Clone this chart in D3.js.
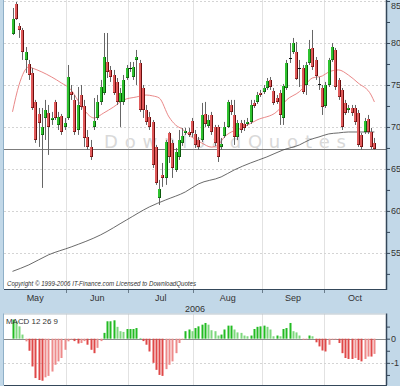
<!DOCTYPE html>
<html><head><meta charset="utf-8">
<script src="https://cdn.jsdelivr.net/npm/d3@7"></script>
<style>body{margin:0;background:#c2d8e8}svg{display:block}</style>
</head><body><svg id="c" width="400" height="386"></svg>
<script>
const open=[81.07,84.64,82.02,81.55,77.98,77.50,76.43,72.98,71.55,69.05,71.07,71.67,70.83,72.98,70.24,71.31,70.00,71.07,74.17,73.22,69.64,73.81,72.50,68.81,67.62,70.00,71.07,72.98,74.05,77.74,76.79,76.19,75.36,72.98,72.98,75.83,76.97,75.95,77.98,77.62,74.64,72.02,71.19,70.60,67.62,61.55,64.29,63.93,69.29,68.10,64.88,66.43,68.10,69.29,69.41,70.71,69.17,68.45,68.45,71.55,70.12,71.43,70.00,70.00,67.62,68.93,70.00,72.62,71.43,68.81,70.48,70.36,70.36,70.60,72.86,72.98,74.05,74.17,74.64,75.60,74.29,73.45,74.05,71.07,74.64,78.16,78.93,78.93,77.00,77.03,75.00,77.62,79.41,77.98,75.10,74.64,72.50,75.00,77.98,79.17,75.60,74.41,72.86,72.02,72.26,72.26,71.67,69.05,69.41,70.95,69.41,68.10];
const high=[84.17,84.88,82.38,81.79,79.52,77.98,77.03,73.22,72.26,72.26,73.22,72.62,71.79,73.22,71.79,71.55,71.07,77.38,75.00,73.81,74.76,75.00,73.22,69.64,68.45,73.45,73.81,75.60,81.19,81.19,77.26,76.79,75.83,74.64,76.19,77.38,77.74,77.74,79.17,77.98,75.00,72.62,71.79,70.83,67.86,63.69,65.71,68.45,69.41,68.45,67.50,69.64,69.88,69.88,69.88,71.07,69.64,68.81,72.86,72.98,71.43,71.79,70.24,70.24,68.69,70.60,73.22,73.22,73.22,70.83,70.83,70.83,71.07,73.22,73.22,74.17,74.41,75.00,75.83,75.95,74.64,73.81,74.41,75.12,77.98,80.00,80.60,80.12,77.98,77.38,77.74,80.36,81.55,78.33,75.95,75.00,75.36,78.22,80.00,79.41,75.83,74.64,73.22,72.62,72.62,72.62,72.02,69.29,71.07,71.43,69.88,68.69];
const low=[80.95,82.74,80.60,77.98,76.43,75.60,72.02,68.10,67.62,62.74,68.45,66.67,70.24,70.83,69.64,69.05,69.64,70.83,73.22,69.05,69.05,72.02,67.62,67.26,66.07,69.64,70.83,72.62,73.81,75.83,75.36,73.81,72.62,70.00,72.62,75.60,76.55,75.60,75.00,71.79,71.07,70.24,69.64,65.12,63.10,60.71,62.86,63.10,65.71,63.93,64.64,66.07,67.74,69.05,68.81,68.81,67.50,67.26,68.21,70.00,69.88,69.05,67.74,65.83,67.26,68.69,69.88,71.43,67.86,68.45,69.29,69.52,70.12,70.36,72.26,72.74,73.57,73.93,74.41,74.41,72.62,72.74,70.24,70.24,74.41,77.62,78.69,75.60,74.76,73.93,73.81,77.38,76.79,75.60,74.41,71.43,72.26,74.76,77.74,74.41,73.22,69.64,71.43,71.67,71.31,70.24,67.62,67.26,69.17,69.17,67.38,67.26];
const close=[82.86,82.86,81.55,78.93,78.93,76.19,72.26,68.45,70.48,70.00,72.02,70.00,71.07,71.07,71.19,69.41,70.48,75.95,73.81,69.41,72.62,72.38,68.69,67.62,66.43,70.71,72.98,74.76,78.33,76.55,75.95,74.05,72.98,74.05,75.60,77.03,76.91,77.14,78.33,72.02,72.02,70.60,70.00,65.48,63.33,62.62,63.93,68.21,66.43,65.12,67.02,68.45,68.93,69.52,69.05,69.29,67.86,67.62,71.43,70.36,70.83,69.41,68.10,66.43,67.98,70.00,72.98,71.79,68.81,70.48,69.64,69.88,70.60,72.62,72.50,73.81,73.81,74.64,75.48,74.76,72.86,72.98,71.43,74.88,77.62,78.10,80.00,75.72,76.95,74.17,77.38,79.29,77.14,76.07,75.05,72.38,75.00,77.98,79.52,74.76,73.57,70.00,71.67,72.26,71.67,70.60,67.86,67.62,70.71,69.41,67.62,67.38];
const macd=[0.79,0.72,0.51,0.17,-0.11,-0.5,-1.15,-1.63,-1.71,-1.74,-1.6,-1.54,-1.36,-1.08,-0.94,-0.8,-0.46,-0.11,-0.04,-0.1,-0.2,-0.18,-0.1,-0.25,-0.46,-0.6,-0.38,-0.1,0.24,0.72,0.72,0.76,0.49,0.31,0.28,0.4,0.4,0.4,0.44,0.03,-0.1,-0.25,-0.53,-1.0,-1.29,-1.5,-1.54,-1.26,-1.08,-0.94,-0.6,-0.18,-0.04,0.31,0.38,0.31,0.44,0.51,0.58,0.65,0.58,0.35,0.31,0.13,0.17,0.38,0.54,0.54,0.38,0.26,0.24,0.13,0.1,0.13,0.4,0.49,0.51,0.54,0.49,0.38,0.1,0.13,0.1,0.4,0.44,0.65,0.31,0.26,0.13,-0.04,-0.02,0.13,0.1,-0.15,-0.32,-0.49,-0.53,-0.25,-0.04,-0.02,-0.18,-0.6,-0.8,-0.84,-0.84,-0.8,-0.88,-0.94,-0.84,-0.74,-0.74,-0.63];
// sparse moving averages: [candle index, value]
const maShort=[[0,71.8],[2,75.0],[5,77.14],[6,77.02],[9,76.55],[12,75.95],[15,75.24],[18,74.4],[20,73.2],[22,72.02],[25,71.07],[28,71.67],[31,72.38],[34,73.2],[38,73.57],[41,73.8],[43,73.7],[45,73.45],[48,71.19],[50,70.24],[52,69.76],[55,68.8],[58,68.1],[61,67.6],[63,67.86],[65,68.8],[71,70.0],[75,70.83],[81,71.79],[84,73.2],[88,74.2],[92,75.83],[95,76.07],[97,76.55],[100,76.79],[103,76.19],[106,75.24],[110,73.8],[111,72.98]];
const maLong=[[0,52.8],[5,53.57],[11,54.76],[18,55.71],[27,57.14],[35,58.93],[42,60.48],[47,61.31],[53,62.26],[57,63.21],[64,64.05],[68,64.88],[73,65.71],[78,66.43],[83,67.26],[88,67.86],[91,68.45],[94,68.81],[97,69.17],[100,69.29],[103,69.4],[106,69.4],[111,69.4]];
const monthLabels=["May","Jun","Jul","Aug","Sep","Oct"];
const monthStarts=[17,36,56,77,96];
const yearLabel="2006";
const priceTicks=[55,60,65,70,75,80,85];
const priceMinor=[52.5,57.5,62.5,67.5,72.5,77.5,82.5];
const macdTicks=[0,-1];
const macdMinor=[0.5,-0.5,-1.5];

const N=close.length;
const svg=d3.select("#c");
const P={l:4,r:386,t:0,b:289};
const M={t:313.5,b:385};
const x=d3.scaleLinear().domain([0,N-1]).range([12.5,374.4]);
const y=d3.scaleLinear().domain([50.7,85.12]).range([P.b,P.t]);
const ym=d3.scaleLinear().domain([-1.917,1.042]).range([M.b,M.t]);
const font="'Liberation Sans', Arial, sans-serif";

svg.append("rect").attr("width",400).attr("height",386).attr("fill","#c2d8e8");
svg.append("rect").attr("x",P.l).attr("y",P.t).attr("width",P.r-P.l).attr("height",P.b-P.t).attr("fill","#fff");
svg.append("rect").attr("x",P.l).attr("y",M.t).attr("width",P.r-P.l).attr("height",M.b-M.t).attr("fill","#fff");

// watermark
svg.append("text").attr("x",104).attr("y",148).attr("font-family","'DejaVu Sans',sans-serif").attr("font-size",18)
  .attr("fill","#d9d9d9").attr("textLength",242).attr("lengthAdjust","spacing").text("DownloadQuotes");

// grid
const bounds=[P.l,...monthStarts.map(i=>x(i-0.5)),P.r];
const g=svg.append("g");
monthStarts.forEach(i=>{
  const bx=Math.round(x(i-0.5))+0.5;
  g.append("line").attr("x1",bx).attr("x2",bx).attr("y1",P.t).attr("y2",P.b).attr("stroke","#e2e2e2");
  g.append("line").attr("x1",bx).attr("x2",bx).attr("y1",M.t).attr("y2",M.b).attr("stroke","#e2e2e2");
  g.append("line").attr("x1",bx).attr("x2",bx).attr("y1",P.b).attr("y2",P.b+4).attr("stroke","#6a7d8c");
});
priceTicks.forEach(v=>{
  const yy=Math.round(y(v))+0.5;
  g.append("line").attr("x1",P.l).attr("x2",P.r).attr("y1",yy).attr("y2",yy).attr("stroke","#d4d4d4").attr("stroke-dasharray","2,2");
});
g.append("line").attr("x1",P.l).attr("x2",P.r).attr("y1",Math.round(ym(-1))+0.5).attr("y2",Math.round(ym(-1))+0.5).attr("stroke","#d4d4d4").attr("stroke-dasharray","2,2");
g.append("line").attr("x1",P.l).attr("x2",P.r).attr("y1",Math.round(ym(0))+0.5).attr("y2",Math.round(ym(0))+0.5).attr("stroke","#8a8a8a");

// last price line
const ly=Math.round(y(close[N-1]))+0.5;
svg.append("line").attr("x1",P.l).attr("x2",P.r).attr("y1",ly).attr("y2",ly).attr("stroke","#7c7c7c");

// moving averages
const line=d3.line().x(d=>x(d[0])).y(d=>y(d[1])).curve(d3.curveMonotoneX);
svg.append("path").attr("d",line(maLong)).attr("fill","none").attr("stroke","#444").attr("stroke-width",0.8);
svg.append("path").attr("d",line(maShort)).attr("fill","none").attr("stroke","#e77a7a").attr("stroke-width",0.9);

// candles
const cg=svg.append("g");
for(let i=0;i<N;i++){
  const cx=Math.round(x(i));
  const o=open[i],c=close[i];
  const doji=Math.abs(o-c)<0.1;
  const up=c>o;
  cg.append("line").attr("x1",cx+0.5).attr("x2",cx+0.5).attr("y1",y(high[i])).attr("y2",y(low[i])).attr("stroke","#666").attr("stroke-width",1);
  const top=Math.round(y(Math.max(o,c))), bot=Math.max(top+1,Math.round(y(Math.min(o,c))));
  if(doji){
    cg.append("rect").attr("x",cx-1).attr("y",top).attr("width",3).attr("height",1).attr("fill","#111");
  } else {
    cg.append("rect").attr("x",cx-1).attr("y",top).attr("width",3).attr("height",bot-top).attr("fill",up?"#2fc22f":"#e05a5a");
    cg.append("rect").attr("x",cx+1).attr("y",top).attr("width",1).attr("height",bot-top).attr("fill",up?"#0b5a0b":"#6a0d0d");
    cg.append("rect").attr("x",cx-1).attr("y",bot-1).attr("width",3).attr("height",1).attr("fill",up?"#0b5a0b":"#6a0d0d").attr("opacity",0.7);
  }
}

// MACD histogram
const mg=svg.append("g");
const z=ym(0);
macd.forEach((v,i)=>{
  const prev=i>0?macd[i-1]:v;
  const grow=Math.abs(v)>=Math.abs(prev);
  let col;
  if(v>=0) col=grow?"#22bb22":"#7cd87c"; else col=grow?"#e04848":"#ee8a8a";
  const cx=Math.round(x(i));
  const yv=ym(v);
  mg.append("rect").attr("x",cx-0.5).attr("y",Math.min(yv,z)).attr("width",2).attr("height",Math.max(0.8,Math.abs(yv-z))).attr("fill",col);
});

// copyright
svg.append("text").attr("x",7).attr("y",286).attr("font-family",font).attr("font-size",6.6).attr("font-style","italic")
  .attr("fill","#333").attr("textLength",189).attr("lengthAdjust","spacingAndGlyphs")
  .text("Copyright \u00A9 1999-2006 IT-Finance.com Licensed to DownloadQuotes");

// MACD label
svg.append("text").attr("x",6).attr("y",324).attr("font-family",font).attr("font-size",7.5).attr("fill","#333")
  .attr("textLength",52).attr("lengthAdjust","spacingAndGlyphs").text("MACD 12 26 9");

// borders
svg.append("line").attr("x1",P.l-0.5).attr("x2",P.l-0.5).attr("y1",P.t).attr("y2",P.b).attr("stroke","#8fb0c8");
svg.append("line").attr("x1",P.l-0.5).attr("x2",P.l-0.5).attr("y1",M.t).attr("y2",M.b).attr("stroke","#8fb0c8");
svg.append("line").attr("x1",P.r+0.5).attr("x2",P.r+0.5).attr("y1",P.t).attr("y2",P.b+1).attr("stroke","#34475a").attr("stroke-width",1.5);
svg.append("line").attr("x1",P.l).attr("x2",P.r+1).attr("y1",P.b+0.5).attr("y2",P.b+0.5).attr("stroke","#34475a");
svg.append("line").attr("x1",P.r+0.5).attr("x2",P.r+0.5).attr("y1",M.t).attr("y2",M.b).attr("stroke","#34475a").attr("stroke-width",1.5);
svg.append("line").attr("x1",P.l).attr("x2",P.r).attr("y1",M.t+0.5).attr("y2",M.t+0.5).attr("stroke","#b8c4cc");
svg.append("line").attr("x1",P.l).attr("x2",P.r+1).attr("y1",M.b+0.5).attr("y2",M.b+0.5).attr("stroke","#34475a");

// right axes
const ax=svg.append("g").attr("transform",`translate(${P.r+1},0)`)
  .call(d3.axisRight(y).tickValues(priceTicks).tickSize(3).tickPadding(1).tickFormat(d3.format("d")));
svg.append("g").attr("transform",`translate(${P.r+1},0)`).call(d3.axisRight(y).tickValues(priceMinor).tickSize(3).tickFormat(""));
const axm=svg.append("g").attr("transform",`translate(${P.r+1},0)`)
  .call(d3.axisRight(ym).tickValues(macdTicks).tickSize(3).tickPadding(1).tickFormat(d=>d===0?"0":String(d)));
svg.append("g").attr("transform",`translate(${P.r+1},0)`).call(d3.axisRight(ym).tickValues(macdMinor).tickSize(3).tickFormat(""));
svg.selectAll(".domain").remove();
svg.selectAll(".tick line").attr("stroke","#34475a");
svg.selectAll(".tick text").attr("font-family",font).attr("font-size",9).attr("fill","#333");
ax.selectAll(".tick text").filter(d=>d===85).attr("dy","0.85em");

// month labels
monthLabels.forEach((m,k)=>{
  svg.append("text").attr("x",(bounds[k]+bounds[k+1])/2).attr("y",301).attr("text-anchor","middle")
    .attr("font-family",font).attr("font-size",9).attr("fill","#333").text(m);
});
svg.append("text").attr("x",195).attr("y",312).attr("text-anchor","middle").attr("font-family",font).attr("font-size",9).attr("fill","#333").text(yearLabel);
</script></body></html>
